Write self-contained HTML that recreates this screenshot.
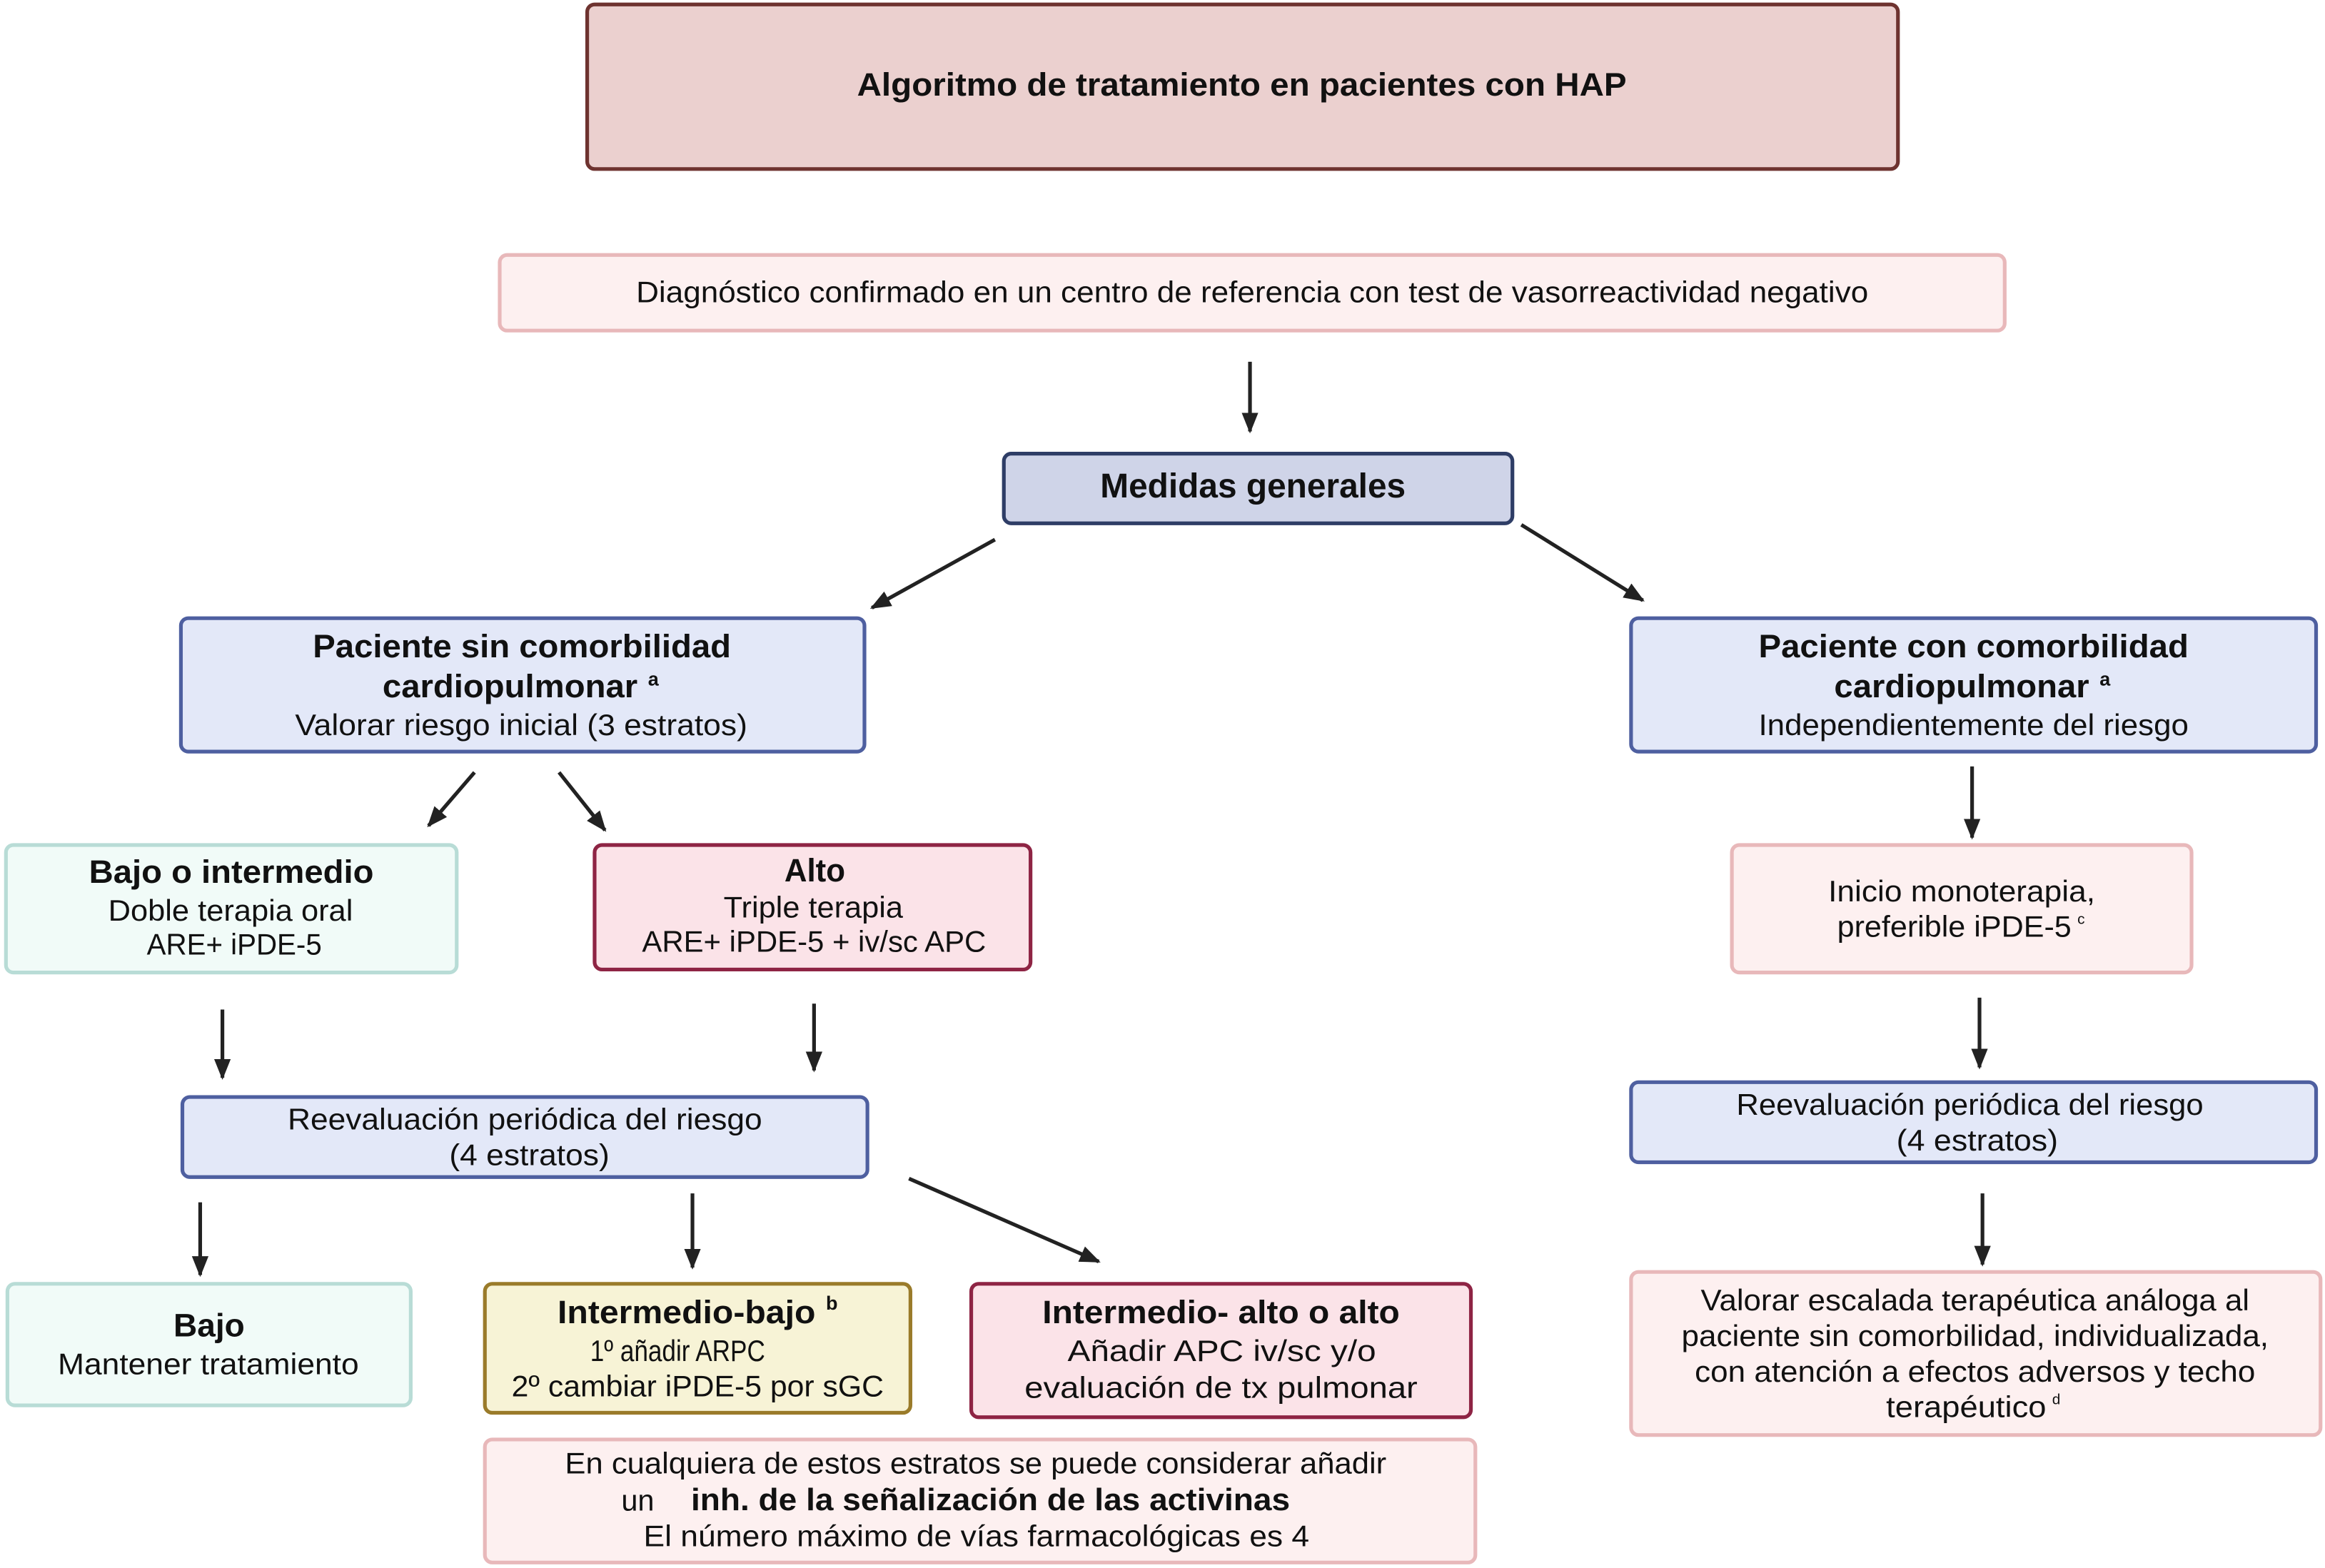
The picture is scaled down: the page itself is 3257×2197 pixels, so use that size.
<!DOCTYPE html>
<html><head><meta charset="utf-8"><style>html,body{margin:0;padding:0;background:#fff}svg{display:block}</style></head><body>
<svg width="3257" height="2197" viewBox="0 0 1568 1057.7" xmlns="http://www.w3.org/2000/svg" font-family="Liberation Sans, sans-serif">
<defs><marker id="ah" viewBox="0 0 10 10" refX="9" refY="5" markerWidth="6" markerHeight="6" orient="auto" markerUnits="userSpaceOnUse"><path d="M0,0 L10,5 L0,10 z" fill="#222"/></marker>
<marker id="a" viewBox="0 0 10 10" refX="9" refY="5" markerWidth="14" markerHeight="14" orient="auto" markerUnits="userSpaceOnUse"><path d="M0,1 L10,5 L0,9 z" fill="#222"/></marker></defs>
<g stroke-width="2.5">
<rect x="396" y="3" width="884" height="111" rx="5" fill="#ebd0cf" stroke="#6e3330"/>
<rect x="337" y="172" width="1015" height="51" rx="5" fill="#fdf0f0" stroke="#e8b8ba"/>
<rect x="677" y="306" width="343" height="47" rx="5" fill="#cfd4e8" stroke="#2e3d66"/>
<rect x="122" y="417" width="461" height="90" rx="5" fill="#e3e8f8" stroke="#4e5fa0"/>
<rect x="1100" y="417" width="462" height="90" rx="5" fill="#e3e8f8" stroke="#4e5fa0"/>
<rect x="4" y="570" width="304" height="86" rx="5" fill="#f1fbf8" stroke="#b8dcd6"/>
<rect x="401" y="570" width="294" height="84" rx="5" fill="#fbe3e8" stroke="#8e2444"/>
<rect x="1168" y="570" width="310" height="86" rx="5" fill="#fdf0f0" stroke="#e8b8ba"/>
<rect x="123" y="740" width="462" height="54" rx="5" fill="#e3e8f8" stroke="#4e5fa0"/>
<rect x="1100" y="730" width="462" height="54" rx="5" fill="#e3e8f8" stroke="#4e5fa0"/>
<rect x="5" y="866" width="272" height="82" rx="5" fill="#f1fbf8" stroke="#b8dcd6"/>
<rect x="327" y="866" width="287" height="87" rx="5" fill="#f7f3d6" stroke="#9a7b2a"/>
<rect x="655" y="866" width="337" height="90" rx="5" fill="#fbe3e8" stroke="#8e2444"/>
<rect x="327" y="971" width="668" height="83" rx="5" fill="#fdf0f0" stroke="#e8b8ba"/>
<rect x="1100" y="858" width="465" height="110" rx="5" fill="#fdf0f0" stroke="#e8b8ba"/>
</g>
<g stroke="#222" stroke-width="2.5" marker-end="url(#a)">
<line x1="843" y1="244" x2="843" y2="291"/>
<line x1="671" y1="364" x2="588" y2="410"/>
<line x1="1026" y1="354" x2="1108" y2="405"/>
<line x1="320" y1="521" x2="289" y2="557"/>
<line x1="377" y1="521" x2="408" y2="560"/>
<line x1="1330" y1="517" x2="1330" y2="565"/>
<line x1="150" y1="681" x2="150" y2="727"/>
<line x1="549" y1="677" x2="549" y2="722"/>
<line x1="1335" y1="673" x2="1335" y2="720"/>
<line x1="135" y1="811" x2="135" y2="860"/>
<line x1="467" y1="805" x2="467" y2="855"/>
<line x1="613" y1="795" x2="741" y2="851"/>
<line x1="1337" y1="805" x2="1337" y2="853"/>
</g>
<g fill="#111" font-size="20" dominant-baseline="central" lengthAdjust="spacingAndGlyphs">
<text x="578" y="57" textLength="519" lengthAdjust="spacingAndGlyphs" font-weight="bold" font-size="22">Algoritmo de tratamiento en pacientes con HAP</text>
<text x="429" y="197" textLength="831" lengthAdjust="spacingAndGlyphs">Diagnóstico confirmado en un centro de referencia con test de vasorreactividad negativo</text>
<text x="742" y="328" textLength="206" lengthAdjust="spacingAndGlyphs" font-weight="bold" font-size="23">Medidas generales</text>
<text x="211" y="436" textLength="282" lengthAdjust="spacingAndGlyphs" font-weight="bold" font-size="22">Paciente sin comorbilidad</text>
<text x="258" y="463" font-weight="bold" font-size="22" textLength="172" lengthAdjust="spacingAndGlyphs">cardiopulmonar</text><text x="437" y="458" font-weight="bold" font-size="13">a</text>
<text x="199" y="489" textLength="305" lengthAdjust="spacingAndGlyphs">Valorar riesgo inicial (3 estratos)</text>
<text x="1186" y="436" textLength="290" lengthAdjust="spacingAndGlyphs" font-weight="bold" font-size="22">Paciente con comorbilidad</text>
<text x="1237" y="463" font-weight="bold" font-size="22" textLength="172" lengthAdjust="spacingAndGlyphs">cardiopulmonar</text><text x="1416" y="458" font-weight="bold" font-size="13">a</text>
<text x="1186" y="489" textLength="290" lengthAdjust="spacingAndGlyphs">Independientemente del riesgo</text>
<text x="60" y="588" textLength="192" lengthAdjust="spacingAndGlyphs" font-weight="bold" font-size="22">Bajo o intermedio</text>
<text x="73" y="614" textLength="165" lengthAdjust="spacingAndGlyphs">Doble terapia oral</text>
<text x="99" y="637" textLength="118" lengthAdjust="spacingAndGlyphs">ARE+ iPDE-5</text>
<text x="529" y="587" textLength="41" lengthAdjust="spacingAndGlyphs" font-weight="bold" font-size="22">Alto</text>
<text x="488" y="612" textLength="121" lengthAdjust="spacingAndGlyphs">Triple terapia</text>
<text x="433" y="635" textLength="232" lengthAdjust="spacingAndGlyphs">ARE+ iPDE-5 + iv/sc APC</text>
<text x="1233" y="601" textLength="180" lengthAdjust="spacingAndGlyphs">Inicio monoterapia,</text>
<text x="1239" y="625" textLength="158" lengthAdjust="spacingAndGlyphs">preferible iPDE-5</text><text x="1401" y="620" font-size="10">c</text>
<text x="194" y="755" textLength="320" lengthAdjust="spacingAndGlyphs">Reevaluación  periódica del riesgo</text>
<text x="303" y="779" textLength="108" lengthAdjust="spacingAndGlyphs">(4 estratos)</text>
<text x="1171" y="745" textLength="315" lengthAdjust="spacingAndGlyphs">Reevaluación periódica del riesgo</text>
<text x="1279" y="769" textLength="109" lengthAdjust="spacingAndGlyphs">(4 estratos)</text>
<text x="117" y="894" textLength="48" lengthAdjust="spacingAndGlyphs" font-weight="bold" font-size="22">Bajo</text>
<text x="39" y="920" textLength="203" lengthAdjust="spacingAndGlyphs">Mantener tratamiento</text>
<text x="376" y="885" textLength="174" lengthAdjust="spacingAndGlyphs" font-weight="bold" font-size="22">Intermedio-bajo</text><text x="557" y="879" font-weight="bold" font-size="13">b</text>
<text x="398" y="911" textLength="118" lengthAdjust="spacingAndGlyphs">1º añadir ARPC</text>
<text x="345" y="935" textLength="251" lengthAdjust="spacingAndGlyphs">2º cambiar iPDE-5 por sGC</text>
<text x="703" y="885" textLength="241" lengthAdjust="spacingAndGlyphs" font-weight="bold" font-size="22">Intermedio- alto o alto</text>
<text x="720" y="911" textLength="208" lengthAdjust="spacingAndGlyphs">Añadir APC iv/sc y/o</text>
<text x="691" y="936" textLength="265" lengthAdjust="spacingAndGlyphs">evaluación de tx pulmonar</text>
<text x="381" y="987" textLength="554" lengthAdjust="spacingAndGlyphs">En cualquiera de estos estratos se puede considerar añadir</text>
<text x="419" y="1012" lengthAdjust="spacingAndGlyphs">un </text><text x="466" y="1012" textLength="404" lengthAdjust="spacingAndGlyphs" font-weight="bold" font-size="21">inh. de la señalización de las activinas</text>
<text x="434" y="1036" textLength="449" lengthAdjust="spacingAndGlyphs">El número  máximo de vías farmacológicas es 4</text>
<text x="1147" y="877" textLength="370" lengthAdjust="spacingAndGlyphs">Valorar escalada terapéutica análoga al</text>
<text x="1134" y="901" textLength="396" lengthAdjust="spacingAndGlyphs">paciente sin comorbilidad, individualizada,</text>
<text x="1143" y="925" textLength="378" lengthAdjust="spacingAndGlyphs">con atención a efectos adversos y techo</text>
<text x="1272" y="949" textLength="108" lengthAdjust="spacingAndGlyphs">terapéutico</text><text x="1384" y="944" font-size="10">d</text>
</g>
</svg>
</body></html>
